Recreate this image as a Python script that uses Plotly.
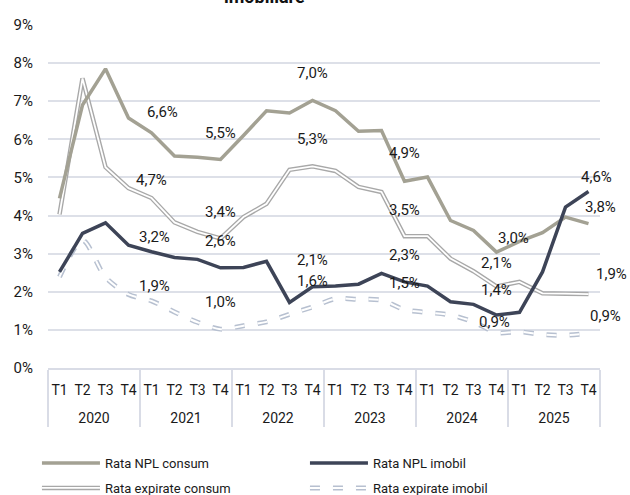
import plotly.graph_objects as go

years = ['2020', '2021', '2022', '2023', '2024', '2025']
quarters = ['T1', 'T2', 'T3', 'T4']

npl_consum = [4.45, 6.90, 7.85, 6.56, 6.17, 5.56, 5.53, 5.47, 6.10, 6.75, 6.69, 7.02,
              6.75, 6.21, 6.23, 4.90, 5.01, 3.87, 3.61, 3.04, 3.32, 3.55, 3.96, 3.79]
exp_consum = [4.03, 7.60, 5.27, 4.72, 4.46, 3.82, 3.57, 3.40, 3.96, 4.31, 5.20, 5.29,
              5.17, 4.75, 4.62, 3.46, 3.46, 2.87, 2.54, 2.14, 2.26, 1.96, 1.95, 1.94]
npl_imobil = [2.52, 3.53, 3.81, 3.22, 3.05, 2.90, 2.85, 2.63, 2.64, 2.80, 1.72, 2.13,
              2.15, 2.20, 2.48, 2.26, 2.15, 1.74, 1.67, 1.39, 1.46, 2.52, 4.22, 4.63]
exp_imobil = [2.39, 3.35, 2.38, 1.93, 1.76, 1.47, 1.20, 1.02, 1.11, 1.21, 1.41, 1.60,
              1.82, 1.80, 1.78, 1.53, 1.46, 1.39, 1.21, 0.93, 0.95, 0.88, 0.86, 0.91]

names = ['Rata NPL consum', 'Rata NPL imobil', 'Rata expirate consum', 'Rata expirate imobil']
y_ticks = list(range(0, 10))

x_year = ['<br>' + y for y in years for _ in quarters]
x_q = [q for _ in years for q in quarters]
X = [x_year, x_q]

C_NPLC = '#a3a193'
C_NPLI = '#3d4457'
C_EXPC = '#a8a8a8'
C_EXPI = '#b7c0d0'
FONT = 'Roboto'
DASH = '10px,13px'

fig = go.Figure()

# expirate imobil (outlined dashes)
fig.add_trace(go.Scatter(x=X, y=exp_imobil, mode='lines', name=names[3], legend='legend3', legendrank=2,
                         line=dict(color=C_EXPI, width=5, dash=DASH, shape='spline', smoothing=0.8)))
fig.add_trace(go.Scatter(x=X, y=exp_imobil, mode='lines', name=names[3], legend='legend2', legendrank=2,
                         line=dict(color='white', width=2, dash=DASH, shape='spline', smoothing=0.8),
                         hoverinfo='skip'))
# expirate consum (double line)
fig.add_trace(go.Scatter(x=X, y=exp_consum, mode='lines', name=names[2], legend='legend3', legendrank=1,
                         line=dict(color=C_EXPC, width=4.5)))
fig.add_trace(go.Scatter(x=X, y=exp_consum, mode='lines', name=names[2], legend='legend2', legendrank=1,
                         line=dict(color='white', width=1.8), hoverinfo='skip'))
# NPL consum
fig.add_trace(go.Scatter(x=X, y=npl_consum, mode='lines', name=names[0], legend='legend', legendrank=1,
                         line=dict(color=C_NPLC, width=3.5)))
# NPL imobil
fig.add_trace(go.Scatter(x=X, y=npl_imobil, mode='lines', name=names[1], legend='legend', legendrank=2,
                         line=dict(color=C_NPLI, width=3.5)))

# data labels at T4 of each year
series = [npl_consum, exp_consum, npl_imobil, exp_imobil]
label_idx = [3, 7, 11, 15, 19, 23]
offsets = {
    3: [(34, 6), (23, 8), (26, 8), (26, 8)],
    7: [(0, 27), (0, 26), (0, 27), (0, 27)],
    11: [(0, 27), (0, 27), (0, 27), (0, 26)],
    15: [(0, 28), (0, 26), (0, 27), (0, 27)],
    19: [(17, 14), (0, 23), (0, 25), (-2, 11)],
    23: [(12, 17), (23, 20), (8, 15), (17, 17)],
}
for i in label_idx:
    for s, (dx, dy) in zip(series, offsets[i]):
        v = s[i]
        fig.add_annotation(x=i, y=v, xref='x', yref='y',
                           text=f"{v:.1f}".replace('.', ',') + '%',
                           showarrow=False, xshift=dx, yshift=dy,
                           font=dict(family=FONT, size=15, color='#1a1a1a'))

# clipped title line
fig.add_annotation(x=0.393, y=1.048, xref='paper', yref='paper', text='<b>imobiliare</b>',
                   showarrow=False, yanchor='bottom', xanchor='center',
                   font=dict(family=FONT, size=18, color='#111111'))

def leg(y, color):
    return dict(orientation='h', x=-0.020, y=y, xanchor='left', yanchor='top',
                entrywidth=195, entrywidthmode='pixels', itemwidth=58,
                bgcolor='rgba(0,0,0,0)', traceorder='normal',
                font=dict(family=FONT, size=13, color=color))

fig.update_layout(
    width=630, height=495,
    margin=dict(l=48, r=30, t=25, b=127, autoexpand=False),
    paper_bgcolor='white', plot_bgcolor='white',
    font=dict(family=FONT, size=14, color='#1a1a1a'),
    showlegend=True,
    legend=leg(-0.2332, '#1a1a1a'),
    legend3=leg(-0.3061, '#1a1a1a'),
    legend2=leg(-0.3061, 'rgba(0,0,0,0)'),
    xaxis=dict(type='multicategory', range=[-0.5, 23.5], autorange=False, automargin=False,
               showgrid=False, showline=True, linecolor='#d9dce6', linewidth=1.5,
               showdividers=True, dividercolor='#d9dce6', dividerwidth=1.5, tickangle=0,
               ticklabelstandoff=8,
               tickfont=dict(family=FONT, size=14, color='#1a1a1a'), ticks=''),
    yaxis=dict(range=[0, 9], tickvals=y_ticks, ticktext=[f"{t}%" for t in y_ticks],
               showgrid=True, gridcolor='#dde0e8', gridwidth=1.5, zeroline=False,
               showline=False, ticks='', ticklabelstandoff=14, automargin=False,
               tickfont=dict(family=FONT, size=15, color='#1a1a1a')),
    hovermode=False,
)

fig.write_html('out.html', config={'displayModeBar': False},
               post_script="document.body.style.margin='0';document.body.style.padding='0';")
